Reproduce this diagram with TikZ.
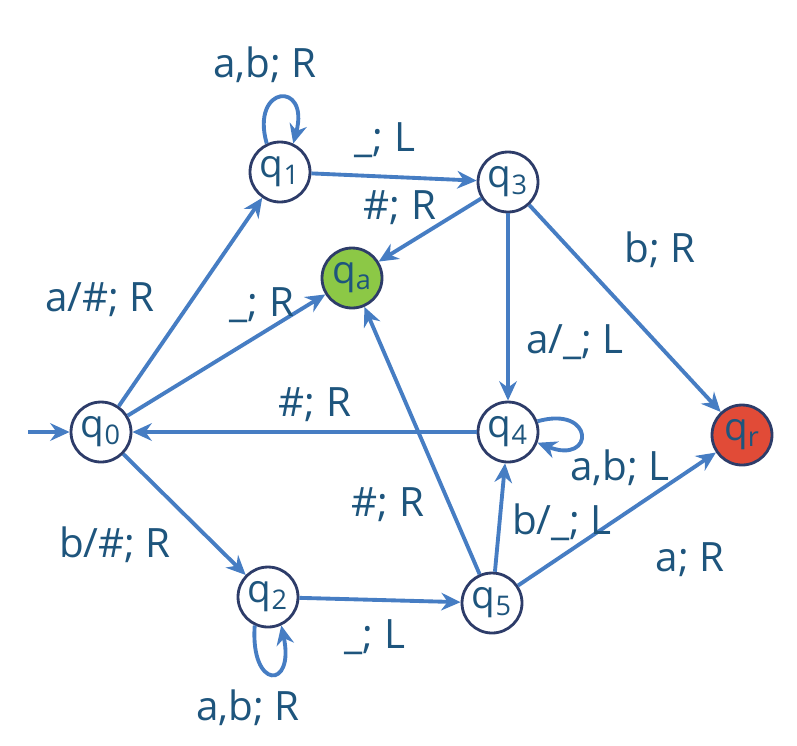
\documentclass[tikz,border=0pt]{standalone}
\usepackage{fontspec}
\setmainfont{Open Sans}
\usetikzlibrary{arrows.meta}
\definecolor{txt}{RGB}{30,85,125}
\definecolor{edge}{RGB}{70,125,195}
\definecolor{bord}{RGB}{45,60,105}
\definecolor{acc}{RGB}{140,200,70}
\definecolor{rej}{RGB}{225,75,55}
\newcommand{\qs}[1]{q\textsubscript{#1}}
\begin{document}
\begin{tikzpicture}[x=0.02cm,y=-0.02cm,
  st/.style={circle,draw=bord,line width=1.6pt,fill=white,minimum size=1.2cm,inner sep=0pt,text=txt,font=\fontsize{22}{24}\selectfont},
  ed/.style={draw=edge,line width=2.2pt,-{Stealth[length=11pt,width=10pt]}},
  lb/.style={text=txt,font=\fontsize{23}{26}\selectfont}]
\useasboundingbox (0,0) rectangle (797,745);
\node[st] (q0) at (101,432) {\qs{0}};
\node[st] (q1) at (280,172) {\qs{1}};
\node[st] (q3) at (508,182) {\qs{3}};
\node[st,fill=acc] (qa) at (352,278) {\qs{a}};
\node[st] (q4) at (508,432) {\qs{4}};
\node[st,fill=rej] (qr) at (742,435) {\qs{r}};
\node[st] (q2) at (268,597) {\qs{2}};
\node[st] (q5) at (492,603) {\qs{5}};
\coordinate (s) at (28,432);
\draw[ed] (s) -- (q0);
\draw[ed] (q0) -- (q1);
\draw[ed] (q0) -- (qa);
\draw[ed] (q4) -- (q0);
\draw[ed] (q0) -- (q2);
\draw[ed] (q1) -- (q3);
\draw[ed] (q3) -- (qa);
\draw[ed] (q3) -- (q4);
\draw[ed] (q3) -- (qr);
\draw[ed] (q2) -- (q5);
\draw[ed] (q5) -- (q4);
\draw[ed] (q5) -- (qa);
\draw[ed] (q5) -- (qr);
\draw[ed] (q1.115) .. controls (250,85) and (310,80) .. (q1.65);
\draw[ed] (q4.20) .. controls (595,405) and (595,465) .. (q4.-20);
\draw[ed] (q2.-115) .. controls (250,690) and (295,690) .. (q2.-65);
\node[lb] (l1) at (265,65) {a,b; R};
\node[lb] (l2) at (385,140) {\_; L};
\node[lb] (l3) at (400,208) {\#; R};
\node[lb] (l4) at (660,250) {b; R};
\node[lb] (l5) at (100,300) {a/\#; R};
\node[lb] (l6) at (262,305) {\_; R};
\node[lb] (l7) at (575,342) {a/\_; L};
\node[lb] (l8) at (315,405) {\#; R};
\node[lb] (l9) at (620,468) {a,b; L};
\node[lb] (l10) at (388,505) {\#; R};
\node[lb] (l11) at (562,522) {b/\_; L};
\node[lb] (l12) at (115,545) {b/\#; R};
\node[lb] (l13) at (690,560) {a; R};
\node[lb] (l14) at (375,637) {\_; L};
\node[lb] (l15) at (248,708) {a,b; R};
\end{tikzpicture}
\end{document}
